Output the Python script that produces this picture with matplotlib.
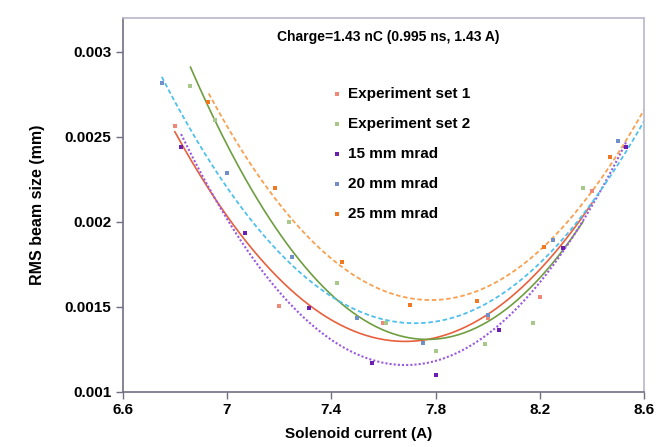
import numpy as np
import matplotlib
matplotlib.use("Agg")
import matplotlib.pyplot as plt

plt.rcParams['font.family'] = ['Liberation Sans', 'DejaVu Sans']
plt.rcParams['font.weight'] = 'bold'

exp1_x = [6.80, 7.20, 7.60, 8.00, 8.20, 8.40]
exp1_y = [0.002565, 0.001506, 0.001404, 0.001434, 0.001559, 0.002181]

exp2_x = [6.86, 6.955, 7.236, 7.421, 7.61, 7.80, 7.988, 8.175, 8.365]
exp2_y = [0.0028, 0.0026, 0.0020, 0.001638, 0.001402, 0.001241, 0.001281, 0.001402, 0.002198]

m15_x = [6.824, 7.069, 7.313, 7.556, 7.80, 8.044, 8.287, 8.531]
m15_y = [0.002441, 0.001934, 0.00149, 0.001167, 0.001098, 0.001363, 0.001847, 0.002441]

m20_x = [6.75, 7.00, 7.25, 7.50, 7.75, 8.00, 8.252, 8.50]
m20_y = [0.002814, 0.002285, 0.001794, 0.001432, 0.001285, 0.001449, 0.001892, 0.002473]

m25_x = [6.929, 7.185, 7.443, 7.70, 7.957, 8.214, 8.47]
m25_y = [0.002706, 0.002196, 0.001761, 0.00151, 0.001534, 0.001849, 0.002382]

# trend-line samples (start, minimum, end)
exp1_fit_x = [6.80, 7.69, 8.40]
exp1_fit_y = [0.00253, 0.001296, 0.00211]
exp2_fit_x = [6.86, 7.78, 8.365]
exp2_fit_y = [0.00291, 0.001308, 0.00200]
m15_fit_x = [6.824, 7.677, 8.531]
m15_fit_y = [0.002516, 0.001157, 0.00247]
m20_fit_x = [6.75, 7.72, 8.60]
m20_fit_y = [0.002853, 0.001403, 0.002594]
m25_fit_x = [6.93, 7.80, 8.60]
m25_fit_y = [0.002755, 0.00154, 0.002661]

labels = ["Experiment set 1", "Experiment set 2", "15 mm mrad", "20 mm mrad", "25 mm mrad"]
xticks = [6.6, 7.0, 7.4, 7.8, 8.2, 8.6]
xticklabels = ["6.6", "7", "7.4", "7.8", "8.2", "8.6"]
yticks = [0.001, 0.0015, 0.002, 0.0025, 0.003]
yticklabels = ["0.001", "0.0015", "0.002", "0.0025", "0.003"]

series = [
    (exp1_x, exp1_y, exp1_fit_x, exp1_fit_y, '#F08878', '#E8603C', '-', 1.2),
    (exp2_x, exp2_y, exp2_fit_x, exp2_fit_y, '#A8C88A', '#6E9E40', '-', 1.2),
    (m15_x, m15_y, m15_fit_x, m15_fit_y, '#6A1FB0', '#9B59E0', (0, (1, 1)), 1.5),
    (m20_x, m20_y, m20_fit_x, m20_fit_y, '#7090CC', '#4FC0EE', (0, (2.5, 1.5)), 1.3),
    (m25_x, m25_y, m25_fit_x, m25_fit_y, '#F07820', '#F8A050', (0, (2.5, 1.5)), 1.3),
]

fig = plt.figure(figsize=(6.56, 4.47), dpi=100)
ax = fig.add_axes([0.187, 0.1237, 0.795, 0.8363])

handles = []
for (xs, ys, fx, fy, pc, lc, ls, lw) in series:
    coef = np.polyfit(fx, fy, 2)
    xx = np.linspace(min(fx), max(fx), 200)
    ax.plot(xx, np.polyval(coef, xx), color=lc, ls=ls, lw=lw, zorder=2)
    h = ax.scatter(xs, ys, s=6, marker='s', color=pc, zorder=3, linewidths=0)
    handles.append(h)

ax.set_xlim(6.6, 8.6)
ax.set_ylim(0.001, 0.0032)
ax.set_xticks(xticks)
ax.set_xticklabels(xticklabels, fontsize=11, fontweight='bold')
ax.set_yticks(yticks)
ax.set_yticklabels(yticklabels, fontsize=11, fontweight='bold')
ax.tick_params(direction='out', length=5, width=1, color='#707080', pad=3)
for s in ['left', 'bottom']:
    ax.spines[s].set_color('#707080')
    ax.spines[s].set_linewidth(1.2)
for s in ['top', 'right']:
    ax.spines[s].set_color('#b8b8cc')
    ax.spines[s].set_linewidth(1.2)

ax.set_xlabel("Solenoid current (A)", fontsize=11, fontweight='bold')
ax.xaxis.set_label_coords(0.4525, -0.095)
ax.set_ylabel("RMS beam size (mm)", fontsize=11.5, fontweight='bold', labelpad=14)
ax.text(0.509, 0.949, "Charge=1.43 nC (0.995 ns, 1.43 A)", transform=ax.transAxes,
        ha='center', va='center', fontsize=10, fontweight='bold')

leg = ax.legend(handles, labels, loc='upper left', bbox_to_anchor=(0.37, 0.853),
                frameon=False, prop={'weight': 'bold', 'size': 11},
                labelspacing=1.05, handletextpad=0.2, handlelength=1.0,
                markerscale=1.0, scatterpoints=1)

fig.savefig("out.png", dpi=100)
